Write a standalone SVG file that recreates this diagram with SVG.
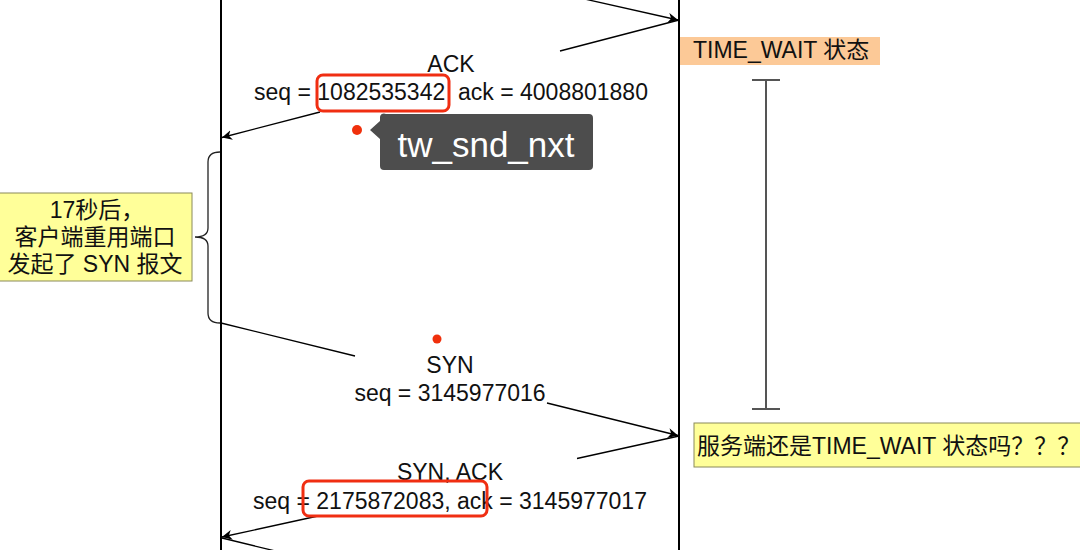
<svg xmlns="http://www.w3.org/2000/svg" width="1080" height="550" viewBox="0 0 1080 550">
<defs>
<marker id="arr" viewBox="0 0 10 10" refX="10" refY="5" markerWidth="10" markerHeight="10" markerUnits="userSpaceOnUse" orient="auto">
<path d="M0,0 L10,5 L0,10 L3,5 z" fill="#000"/>
</marker>
<style>
.t{font-family:"Liberation Sans","Noto Sans CJK SC",sans-serif;font-size:23px;fill:#111;}
.c{text-anchor:middle;}
.ln{stroke:#000;stroke-width:1.3;fill:none;}
.life{stroke:#000;stroke-width:2;}
.hl{fill:none;stroke:#f02e12;stroke-width:3;}
.dot{fill:#f0300c;}
</style>
</defs>
<rect width="1080" height="550" fill="#fff"/>
<g id="lifelines">
<line class="life" x1="221" y1="0" x2="221" y2="550"/>
<line class="life" x1="679" y1="0" x2="679" y2="550"/>
</g>
<g id="connectors">
<line class="ln" x1="500" y1="-20" x2="678" y2="20" marker-end="url(#arr)"/>
<path class="ln" d="M679,20 L560,51 M320,112 L222,137.5" marker-end="url(#arr)"/>
<path class="ln" d="M221,323 L355,356 M547,403 L678,435.5" marker-end="url(#arr)"/>
<path class="ln" d="M679,436 L577,458.5 M318,516 L222,537" marker-end="url(#arr)"/>
<line class="ln" x1="222" y1="538" x2="300" y2="557"/>
</g>
<g id="ack-label">
<text class="t c" x="451" y="72">ACK</text>
<text class="t c" x="451" y="100" style="white-space:pre">seq = 1082535342  ack = 4008801880</text>
<rect class="hl" x="317" y="75" width="132" height="36" rx="6"/>
</g>
<g id="tooltip">
<circle class="dot" cx="357" cy="130" r="5"/>
<path d="M386,114 H589 a4,4 0 0 1 4,4 V166 a4,4 0 0 1 -4,4 H384 a4,4 0 0 1 -4,-4 V139 L370,130 L380,121 V118 a4,4 0 0 1 6,-4 z" fill="#4d4d4d"/>
<text x="486" y="157" text-anchor="middle" style="font-family:'Liberation Sans',sans-serif;font-size:35px;fill:#fff">tw_snd_nxt</text>
</g>
<g id="brace">
<path d="M220,152 Q208,152 208,162 L208,228 Q208,237 195,237 Q208,237 208,246 L208,313 Q208,323 220,323" fill="none" stroke="#222" stroke-width="1.3"/>
</g>
<g id="note-left">
<rect x="-1" y="193" width="193" height="88" fill="#ffff99" stroke="#8a8a5a" stroke-width="1"/>
<text class="t c" x="97" y="218">17秒后，</text>
<text class="t c" x="95" y="245">客户端重用端口</text>
<text class="t c" x="95" y="272">发起了 SYN 报文</text>
</g>
<g id="time-wait">
<rect x="680" y="37" width="200" height="28" fill="#fcc997"/>
<text class="t" x="693" y="58">TIME_WAIT 状态</text>
</g>
<g id="duration">
<line x1="766" y1="80" x2="766" y2="409" stroke="#555" stroke-width="2"/>
<line x1="752" y1="80" x2="780" y2="80" stroke="#555" stroke-width="2"/>
<line x1="752" y1="409" x2="780" y2="409" stroke="#555" stroke-width="2"/>
</g>
<g id="syn-label">
<circle class="dot" cx="437" cy="339" r="4.5"/>
<text class="t c" x="450" y="373">SYN</text>
<text class="t c" x="450" y="401">seq = 3145977016</text>
</g>
<g id="note-right">
<rect x="694" y="423" width="400" height="44" fill="#ffff99" stroke="#8a8a5a" stroke-width="1"/>
<text class="t" x="697" y="454">服务端还是TIME_WAIT 状态吗？？？</text>
</g>
<g id="synack-label">
<text class="t c" x="450" y="480">SYN, ACK</text>
<text class="t c" x="450" y="509">seq = 2175872083, ack = 3145977017</text>
<rect class="hl" x="303" y="481" width="184" height="35" rx="6"/>
</g>
</svg>
